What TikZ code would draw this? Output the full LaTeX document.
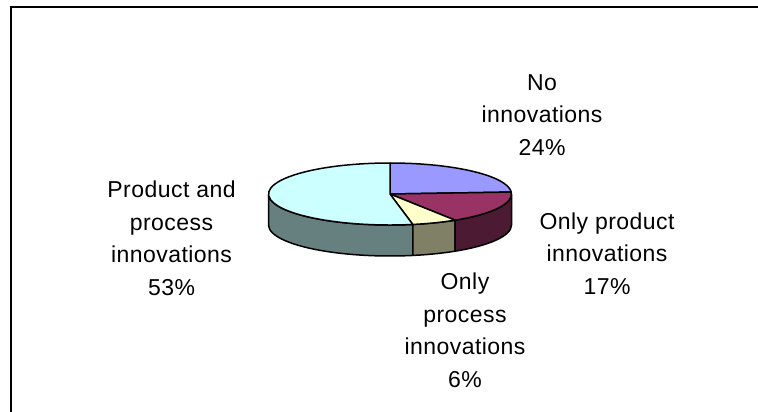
\documentclass[tikz,border=0pt]{standalone}
\usepackage{fontspec}
\setmainfont{Liberation Sans}[LetterSpace=2]
\definecolor{topNone}{RGB}{153,153,255}
\definecolor{topProd}{RGB}{153,51,102}
\definecolor{topProc}{RGB}{255,255,204}
\definecolor{topBoth}{RGB}{204,255,255}
\definecolor{sideProd}{RGB}{77,26,51}
\definecolor{sideProc}{RGB}{128,128,102}
\definecolor{sideBoth}{RGB}{102,128,128}
\tikzset{
  slice/.style={draw=black, line width=1.5pt, line join=round},
  pielabel/.style={anchor=base, inner sep=0pt, align=center,
    font=\fontsize{23}{32.4}\selectfont},
  frameline/.style={line width=2pt}
}
\begin{document}
\begin{tikzpicture}[x=1pt,y=1pt,yscale=-1,xscale=1]
\useasboundingbox (0,0) rectangle (758,412);

%Frame
\coordinate (fbl) at (11,413);
\coordinate (ftl) at (11,7);
\coordinate (ftr) at (759,7);
\draw [frameline] (fbl) -- (ftl) -- (ftr);

\coordinate (c) at (390,194);
%Side walls
\draw [slice, fill=sideBoth] (c) ++(79.2:121.5 and 31) arc [start angle=79.2, end angle=180, x radius=121.5, y radius=31] -- ++(0,31) arc [start angle=180, end angle=79.2, x radius=121.5, y radius=31] -- cycle;
\draw [slice, fill=sideProc] (c) ++(57.6:121.5 and 31) arc [start angle=57.6, end angle=79.2, x radius=121.5, y radius=31] -- ++(0,31) arc [start angle=79.2, end angle=57.6, x radius=121.5, y radius=31] -- cycle;
\draw [slice, fill=sideProd] (c) ++(0:121.5 and 31) arc [start angle=0, end angle=57.6, x radius=121.5, y radius=31] -- ++(0,31) arc [start angle=57.6, end angle=0, x radius=121.5, y radius=31] -- cycle;

%Top slices
\draw [slice, fill=topNone] (c) -- ++(-90:121.5 and 31) arc [start angle=-90, end angle=-3.6, x radius=121.5, y radius=31] -- cycle;
\draw [slice, fill=topProd] (c) -- ++(-3.6:121.5 and 31) arc [start angle=-3.6, end angle=57.6, x radius=121.5, y radius=31] -- cycle;
\draw [slice, fill=topProc] (c) -- ++(57.6:121.5 and 31) arc [start angle=57.6, end angle=79.2, x radius=121.5, y radius=31] -- cycle;
\draw [slice, fill=topBoth] (c) -- ++(79.2:121.5 and 31) arc [start angle=79.2, end angle=270, x radius=121.5, y radius=31] -- cycle;

% Text Node
\node [pielabel] (lblNone) at (542,155) {No\\innovations\\24\%};
% Text Node
\node [pielabel] (lblProd) at (607,294.3) {Only product\\innovations\\17\%};
% Text Node
\node [pielabel] (lblProc) at (465,387) {Only\\process\\innovations\\6\%};
% Text Node
\node [pielabel] (lblBoth) at (171.5,295) {Product and\\process\\innovations\\53\%};
\end{tikzpicture}
\end{document}
